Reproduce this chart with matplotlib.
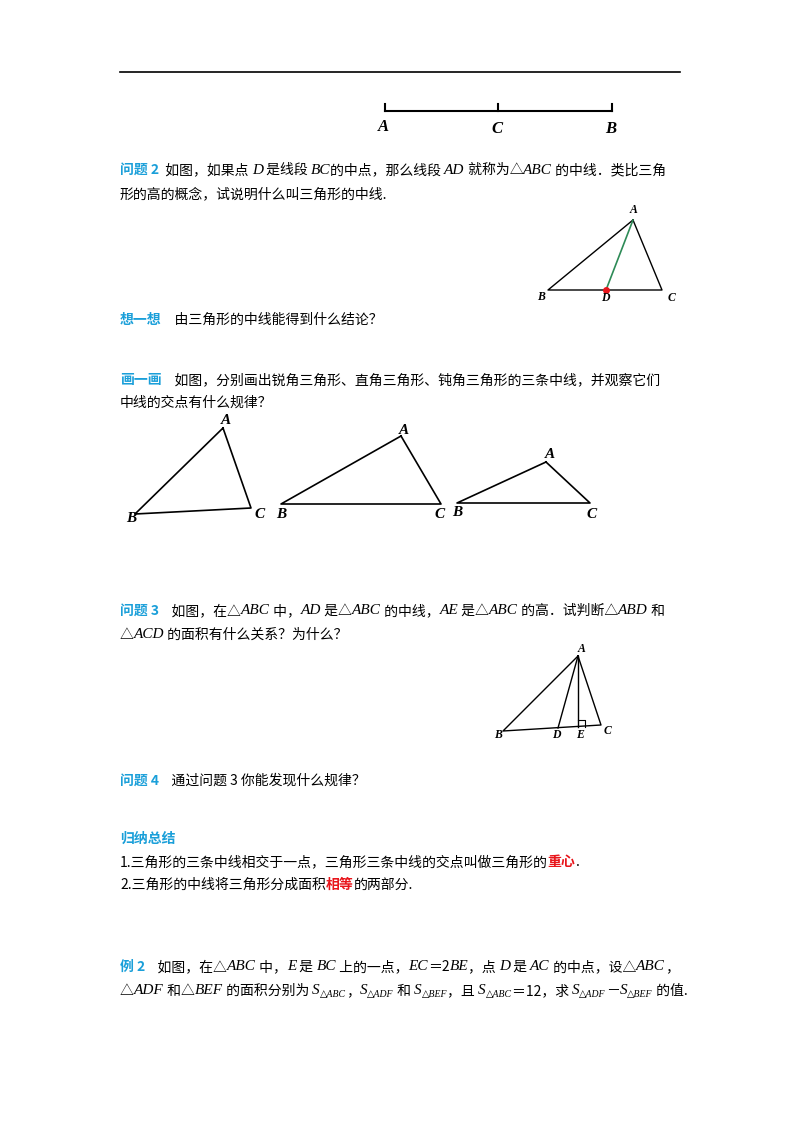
import matplotlib
matplotlib.use("Agg")
import matplotlib.pyplot as plt

BLUE = "#1a9fd9"
RED = "#e8151b"
CJK = ['Noto Sans CJK SC', 'DejaVu Sans']
SER = ['Liberation Serif', 'DejaVu Serif']

# ---- geometry data (page pixel coordinates) ----
seg_x = [385, 498, 612]; seg_y = 111
seg_labels = [("A", 383, 127), ("C", 497, 129), ("B", 611, 129)]

tri2 = {"A": (633, 220), "B": (548, 290), "C": (662, 290), "D": (606, 290)}
tri2_lbl = {"A": (634, 210), "B": (541, 297), "D": (605, 298), "C": (672, 298)}

tris = [
    ({"A": (223, 428), "B": (135, 514), "C": (251, 508)},
     {"A": (226, 421), "B": (131, 519), "C": (260, 515)}),
    ({"A": (401, 436), "B": (281, 504), "C": (441, 504)},
     {"A": (404, 430), "B": (281, 514), "C": (440, 514)}),
    ({"A": (546, 462), "B": (457, 503), "C": (590, 503)},
     {"A": (550, 455), "B": (457, 512), "C": (592, 514)}),
]

tri3 = {"A": (578, 656), "B": (503, 731), "C": (601, 725), "D": (558, 728), "E": (578, 727)}
tri3_lbl = {"A": (582, 649), "B": (498, 735), "D": (556, 735), "E": (580, 735), "C": (608, 731)}

fig = plt.figure(figsize=(8, 11.32), dpi=100)
ax = fig.add_axes([0, 0, 1, 1])
ax.set_xlim(0, 800); ax.set_ylim(1132, 0); ax.axis('off')
r = fig.canvas.get_renderer()

def styl(s):
    if s == 'c': return dict(family=CJK, size=10, color='black')
    if s == 'b': return dict(family=CJK, size=10, color=BLUE, weight='bold')
    if s == 'r': return dict(family=CJK, size=10, color=RED, weight='bold')
    if s == 'i': return dict(family=SER, size=11, style='italic', color='black')
    if s == 'n': return dict(family=SER, size=11, color='black')
    if s == 's': return dict(family=SER, size=7, style='italic', color='black')

def line(x, y, runs):
    for txt, s in runs:
        yy = y + 4 if s == 's' else y
        t = ax.text(x, yy, txt, va='center', ha='left', **styl(s))
        x = t.get_window_extent(r).x1

ax.plot([120, 680], [72, 72], color='black', lw=1.2)

# segment
ax.plot([seg_x[0], seg_x[-1]], [seg_y, seg_y], color='black', lw=1.5)
for x in seg_x:
    ax.plot([x, x], [seg_y - 7, seg_y], color='black', lw=1.5)
for l, x, y in seg_labels:
    ax.text(x, y, l, ha='center', va='center', family=SER, style='italic', weight='bold', size=12)

def lbl(d):
    for k, (x, y) in d.items():
        ax.text(x, y, k, ha='center', va='center', family=SER, style='italic', weight='bold', size=8.5)

line(120, 170, [("问题 2", 'b'), ("  如图，如果点 ", 'c'), ("D", 'i'), (" 是线段 ", 'c'), ("BC", 'i'),
                ("的中点，那么线段 ", 'c'), ("AD", 'i'), (" 就称为△", 'c'), ("ABC", 'i'),
                (" 的中线．类比三角", 'c')])
line(120, 194, [("形的高的概念，试说明什么叫三角形的中线.", 'c')])
A, B, C, D = (tri2[k] for k in "ABCD")
ax.plot([A[0], B[0], C[0], A[0]], [A[1], B[1], C[1], A[1]], color='black', lw=1)
ax.plot([A[0], D[0]], [A[1], D[1]], color='#2e8b57', lw=1.2)
ax.plot(D[0], D[1], 'o', color=RED, ms=4)
lbl(tri2_lbl)

line(120, 320, [("想一想", 'b'), ("    由三角形的中线能得到什么结论？", 'c')])
line(120, 380, [("画一画", 'b'), ("    如图，分别画出锐角三角形、直角三角形、钝角三角形的三条中线，并观察它们", 'c')])
line(120, 403, [("中线的交点有什么规律？", 'c')])
for pts, lb in tris:
    A, B, C = pts["A"], pts["B"], pts["C"]
    ax.plot([A[0], B[0], C[0], A[0]], [A[1], B[1], C[1], A[1]], color='black', lw=1.2)
    for k, (x, y) in lb.items():
        ax.text(x, y, k, ha='center', va='center', family=SER, style='italic', weight='bold', size=11)

line(120, 611, [("问题 3", 'b'), ("    如图，在△", 'c'), ("ABC", 'i'), (" 中，", 'c'), ("AD", 'i'),
                (" 是△", 'c'), ("ABC", 'i'), (" 的中线，", 'c'), ("AE", 'i'), (" 是△", 'c'),
                ("ABC", 'i'), (" 的高．试判断△", 'c'), ("ABD", 'i'), (" 和", 'c')])
line(120, 635, [("△", 'c'), ("ACD", 'i'), (" 的面积有什么关系？为什么？", 'c')])
A, B, C, D, E = (tri3[k] for k in "ABCDE")
ax.plot([A[0], B[0], C[0], A[0]], [A[1], B[1], C[1], A[1]], color='black', lw=1)
ax.plot([A[0], D[0]], [A[1], D[1]], color='black', lw=1)
ax.plot([A[0], E[0]], [A[1], E[1]], color='black', lw=1)
ax.plot([E[0], E[0] + 7, E[0] + 7], [E[1] - 7, E[1] - 7, E[1]], color='black', lw=0.8)
lbl(tri3_lbl)

line(120, 781, [("问题 4", 'b'), ("    通过问题 3 你能发现什么规律？", 'c')])
line(120, 839, [("归纳总结", 'b')])
line(120, 862, [("1.三角形的三条中线相交于一点，三角形三条中线的交点叫做三角形的", 'c'), ("重心", 'r'), (".", 'c')])
line(120, 885, [("2.三角形的中线将三角形分成面积", 'c'), ("相等", 'r'), ("的两部分.", 'c')])

line(120, 967, [("例 2", 'b'), ("    如图，在△", 'c'), ("ABC", 'i'), (" 中，", 'c'), ("E", 'i'), (" 是 ", 'c'),
                ("BC", 'i'), (" 上的一点，", 'c'), ("EC", 'i'), ("＝2", 'c'), ("BE", 'i'),
                ("，点 ", 'c'), ("D", 'i'), (" 是 ", 'c'), ("AC", 'i'), (" 的中点，设△", 'c'), ("ABC", 'i'), ("，", 'c')])
line(120, 991, [("△", 'c'), ("ADF", 'i'), (" 和△", 'c'), ("BEF", 'i'), (" 的面积分别为 ", 'c'),
                ("S", 'i'), ("△ABC", 's'), ("，", 'c'), ("S", 'i'), ("△ADF", 's'), (" 和 ", 'c'),
                ("S", 'i'), ("△BEF", 's'), ("，且 ", 'c'), ("S", 'i'), ("△ABC", 's'), ("＝12，求 ", 'c'),
                ("S", 'i'), ("△ADF", 's'), ("－", 'c'), ("S", 'i'), ("△BEF", 's'), (" 的值.", 'c')])

fig.savefig("out.png", dpi=100)
